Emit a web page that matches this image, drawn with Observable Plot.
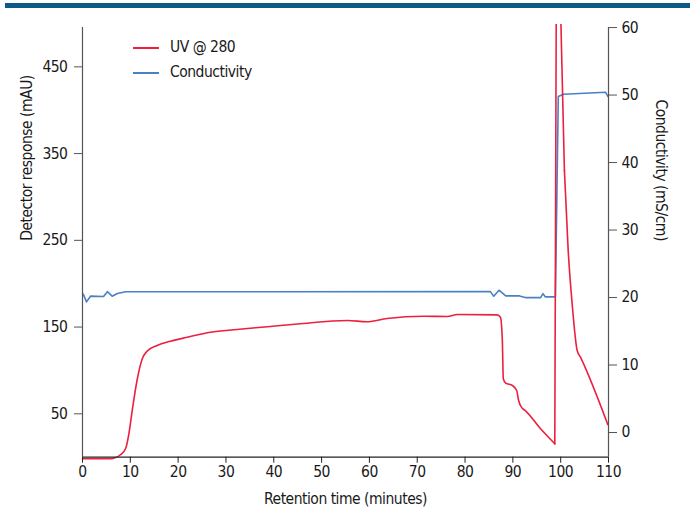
<!DOCTYPE html>
<html>
<head>
<meta charset="utf-8">
<script src="https://cdn.jsdelivr.net/npm/d3@7"></script>
<script src="https://cdn.jsdelivr.net/npm/@observablehq/plot@0.6"></script>
<style>
  html, body { margin: 0; padding: 0; background: #fff; }
  #wrap { position: relative; width: 690px; height: 512px; overflow: hidden;
          font-family: 'Liberation Sans Narrow', 'DejaVu Sans Condensed', 'Roboto', sans-serif; color: #1a1a1a; }
  #banner { position: absolute; left: 5px; right: 0; top: 3px; height: 5px; background: #0b5a87; }
  #legend { position: absolute; left: 133px; top: 35px; font-size: 15.5px; letter-spacing: -0.5px; line-height: 25px; }
  #legend .item { display: flex; align-items: center; height: 25px; }
  #legend .sw { width: 26px; height: 2px; margin-right: 11px; }
  #chart { position: absolute; left: 0; top: 0; }
</style>
</head>
<body>
<div id="wrap">
  <div id="chart"></div>
  <div id="banner"></div>
  <div id="legend"></div>
</div>
<script>
// ---- data ----
const xTicks = [0, 10, 20, 30, 40, 50, 60, 70, 80, 90, 100, 110];
const leftTicks = [50, 150, 250, 350, 450];
const rightTicks = [0, 10, 20, 30, 40, 50, 60];

const seriesNames = ["UV @ 280", "Conductivity"];
const seriesColors = ["#ec1f3f", "#4a80c4"];

// UV @ 280 (mAU) vs retention time (min)
const uvTime  = [0, 5.5, 6.55, 7.95, 9.0, 9.7, 10.4, 11.4, 12.5, 13.5, 15.6, 18.4, 21.9, 26.8, 32.3, 39.3, 41.4, 45, 55.4, 59.5, 63.7, 71.4, 76.3, 78.4, 86.7, 87.4, 87.8, 88.0, 88.5, 89.9, 90.8, 91.2, 91.9, 92.6, 95.8, 98.77, 99.08, 99.5, 99.92, 100.78, 101.57, 102.4, 103.45, 104.14, 109.85];
const uvValue = [-1.8, -1.8, -1.1, 2.8, 9.7, 27, 53.8, 88.4, 113.4, 122.2, 128.8, 133.7, 138.3, 144.1, 147.2, 150.7, 151.8, 153.5, 157.6, 156.1, 159.9, 162.5, 162.2, 164.5, 164.1, 161.4, 134.5, 90.4, 85.3, 82.7, 76.9, 65.4, 56.9, 53.8, 32.7, 15.4, 530, 580, 530, 330.5, 238.3, 176.8, 123, 115.3, 37.7];

// Conductivity (mS/cm) vs retention time (min)
const condTime  = [0.15, 0.84, 1.67, 4.4, 5.2, 6.2, 7.3, 9.0, 85.3, 86.0, 87.1, 88.5, 91.4, 92.6, 95.8, 96.3, 96.8, 98.9, 99.5, 100.6, 109.4, 109.9];
const condValue = [20.5, 19.35, 20.2, 20.15, 20.87, 20.2, 20.6, 20.85, 20.87, 20.19, 21.08, 20.24, 20.24, 19.99, 19.99, 20.58, 20.09, 20.09, 49.78, 50.12, 50.41, 49.78];

// ---- right-axis mapping into the left (mAU) scale ----
const rightMin = 28.47, rightPerUnit = 7.78;
const toLeft = c => rightMin + c * rightPerUnit;
const fromLeft = v => (v - rightMin) / rightPerUnit;

const uv = uvTime.map((t, i) => ({t, v: uvValue[i]}));
const cond = condTime.map((t, i) => ({t, v: toLeft(condValue[i])}));
// the off-scale peak is clipped at the top of the frame; the rest is drawn unclipped
const peakStart = 98.77, peakEnd = 100.78;
const uvBefore = uv.filter(d => d.t <= peakStart);
const uvPeak = uv.filter(d => d.t >= peakStart && d.t <= peakEnd);
const uvAfter = uv.filter(d => d.t >= peakEnd);

const axisColor = "#555";
const font = "'Liberation Sans Narrow', 'DejaVu Sans Condensed', 'Roboto', sans-serif";
const fs = 15.5;

const chart = Plot.plot({
  width: 690,
  height: 512,
  marginTop: 24,
  marginBottom: 55.3,
  marginLeft: 82,
  marginRight: 82,
  x: {domain: [0, 110]},
  y: {domain: [0, 498.8]},
  style: {fontFamily: font, fontSize: fs + "px", letterSpacing: "-0.5px", color: "#1a1a1a", background: "transparent"},
  marks: [
    Plot.line(cond, {x: "t", y: "v", stroke: seriesColors[1], strokeWidth: 1.6, curve: "linear"}),
    Plot.line(uvBefore, {x: "t", y: "v", stroke: seriesColors[0], strokeWidth: 1.6, curve: "monotone-x"}),
    Plot.line(uvPeak, {x: "t", y: "v", stroke: seriesColors[0], strokeWidth: 1.6, curve: "linear", clip: true}),
    Plot.line(uvAfter, {x: "t", y: "v", stroke: seriesColors[0], strokeWidth: 1.6, curve: "monotone-x"}),
    // axis lines
    Plot.ruleY([0], {stroke: "#222", strokeWidth: 1.2}),
    Plot.ruleX([0], {y1: 0, y2: toLeft(60), stroke: axisColor, strokeWidth: 1.2}),
    Plot.ruleX([110], {y1: 0, y2: toLeft(60), stroke: axisColor, strokeWidth: 1.2}),
    // axes
    Plot.axisX({ticks: xTicks, tickSize: 6, tickPadding: 3, label: null, stroke: "#222"}),
    Plot.axisY({ticks: leftTicks, anchor: "left", tickSize: 8, tickPadding: 7, label: null, stroke: axisColor}),
    Plot.axisY(rightTicks.map(toLeft), {anchor: "right", tickSize: 8, tickPadding: 5, label: null, stroke: axisColor,
      tickFormat: d => Math.round(fromLeft(d))}),
    // axis titles
    Plot.text(["Detector response (mAU)"], {frameAnchor: "left", dx: -55, rotate: -90, text: d => d, fontSize: fs}),
    Plot.text(["Conductivity (mS/cm)"], {frameAnchor: "right", dx: 52, rotate: 90, text: d => d, fontSize: fs}),
    Plot.text(["Retention time (minutes)"], {frameAnchor: "bottom", dy: 47, text: d => d, fontSize: fs})
  ]
});
document.getElementById("chart").appendChild(chart);

const legend = document.getElementById("legend");
seriesNames.forEach((name, i) => {
  const item = document.createElement("div");
  item.className = "item";
  const sw = document.createElement("span");
  sw.className = "sw";
  sw.style.background = seriesColors[i];
  const label = document.createElement("span");
  label.textContent = name;
  item.appendChild(sw);
  item.appendChild(label);
  legend.appendChild(item);
});
</script>
</body>
</html>
